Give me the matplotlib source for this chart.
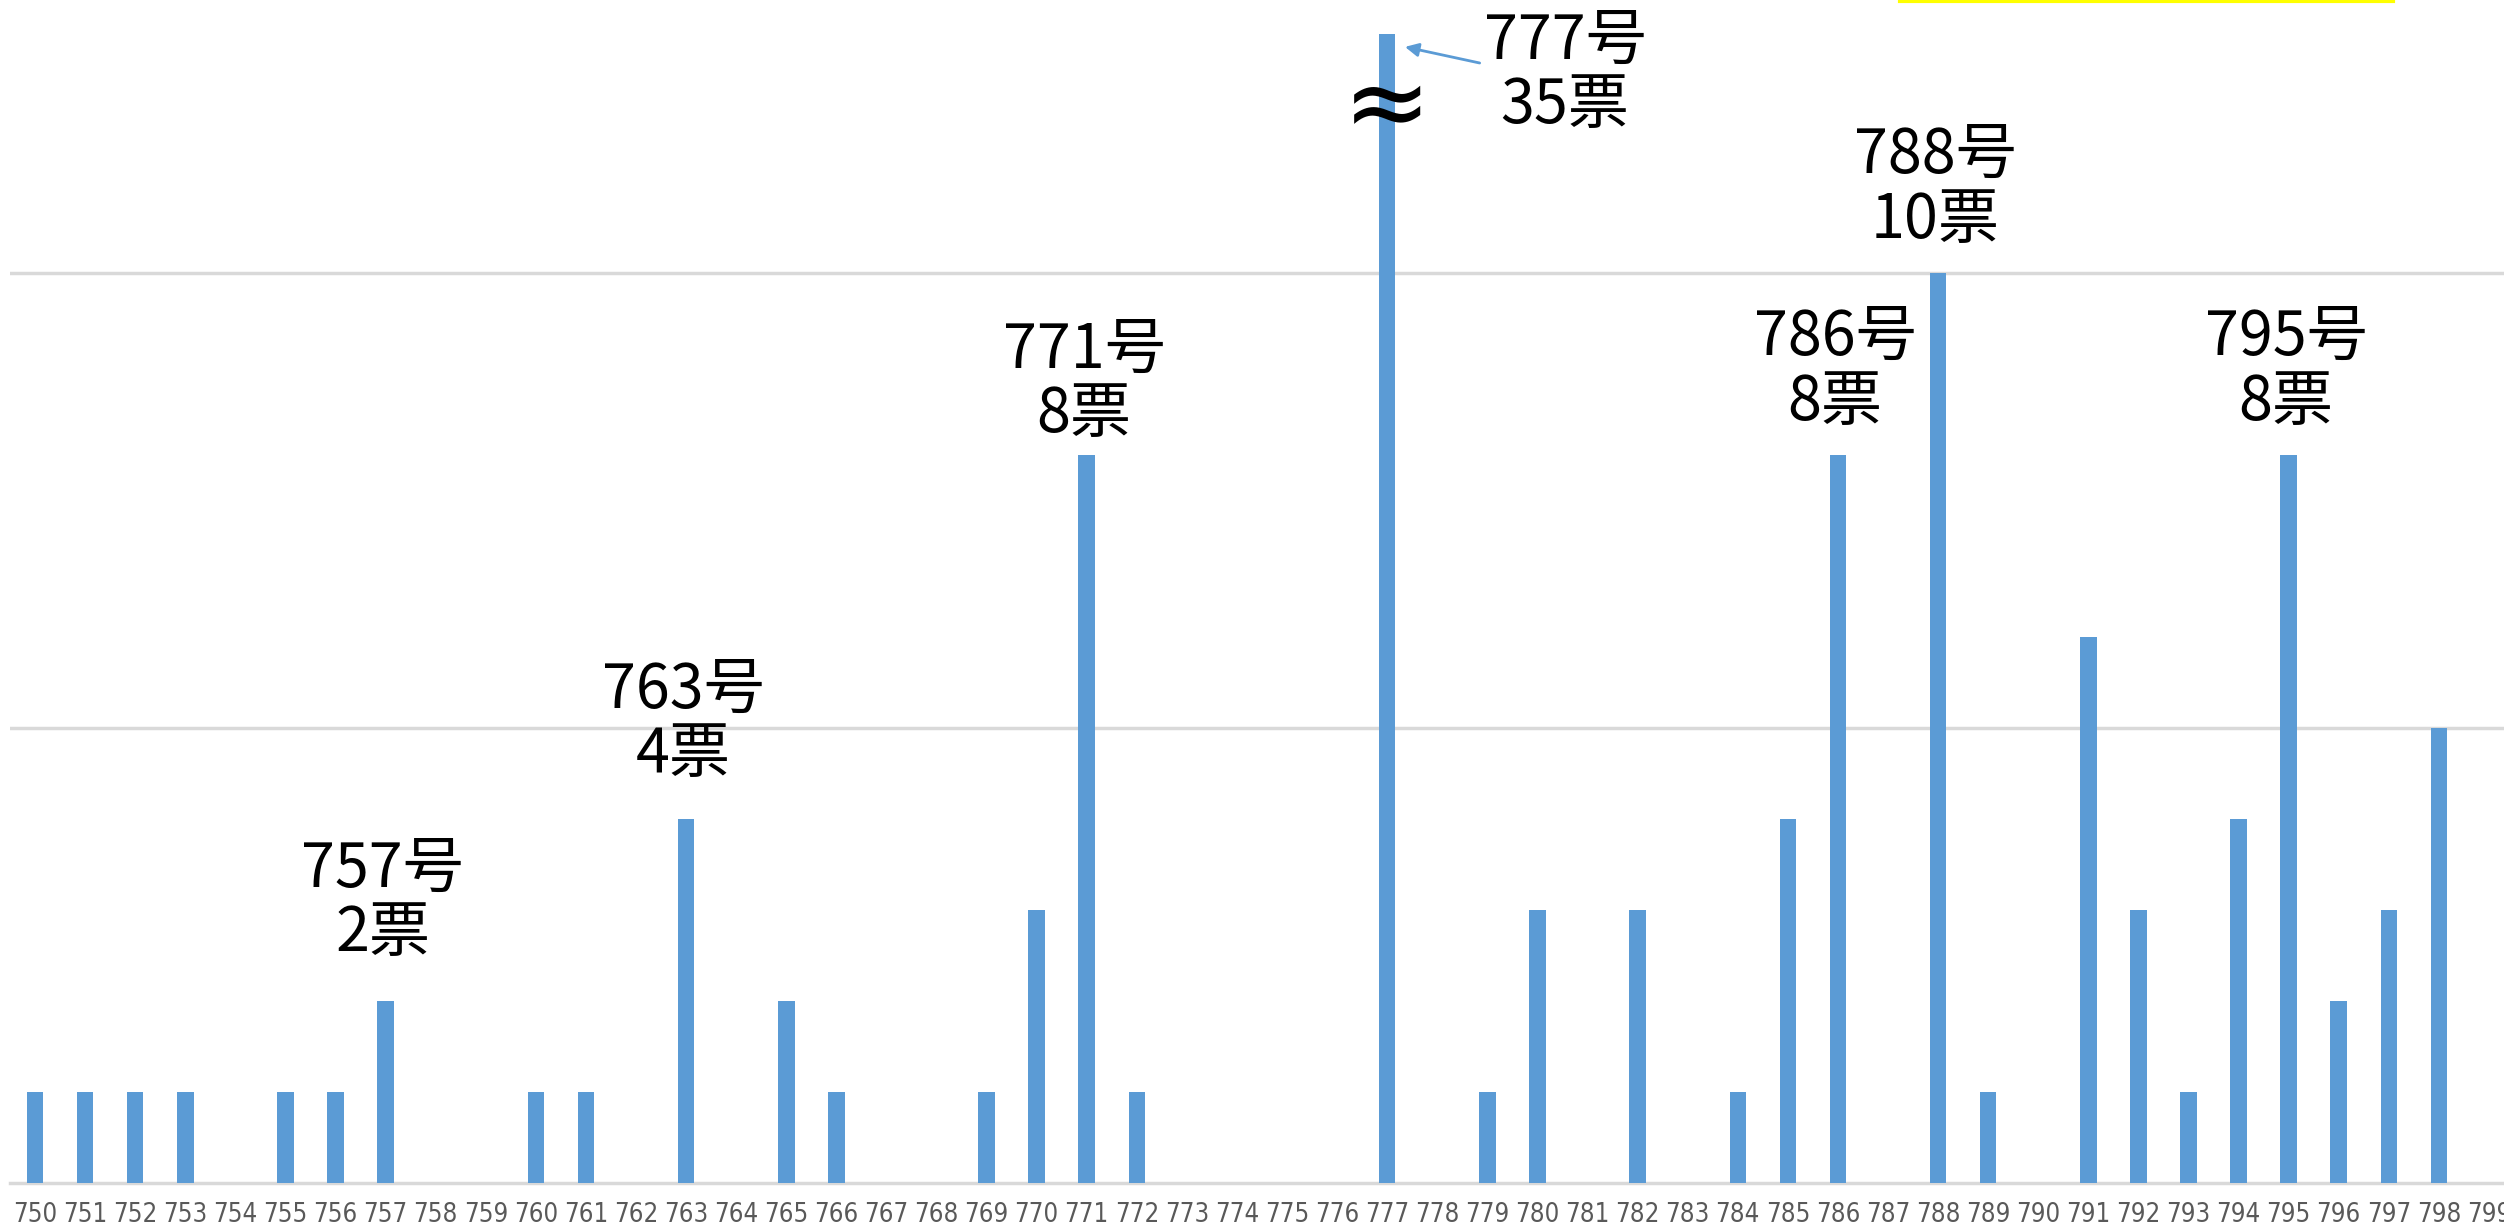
import numpy as np
import matplotlib.pyplot as plt
from matplotlib import font_manager

# votes per number 750..799
numbers = [str(n) for n in range(750, 800)]
votes = [1, 1, 1, 1, 0, 1, 1, 2, 0, 0,
         1, 1, 0, 4, 0, 2, 1, 0, 0, 1,
         3, 8, 1, 0, 0, 0, 0, 35, 0, 1,
         3, 0, 3, 0, 1, 4, 8, 0, 10, 1,
         0, 6, 3, 1, 4, 8, 2, 3, 5, 0]

# labelled bars: (number, text)
labels = [("757", "757号\n2票"), ("763", "763号\n4票"), ("771", "771号\n8票"),
          ("786", "786号\n8票"), ("788", "788号\n10票"), ("795", "795号\n8票")]
top_label = ("777", "777号\n35票")

# gap above each labelled bar, in points
label_gap = [25.7, 23.5, 6.2, 15.4, 15.4, 15.4]

cjk = ["Noto Sans CJK JP", "DejaVu Sans"]
names = {f.name for f in font_manager.fontManager.ttflist}
if "Liberation Sans Narrow" in names:
    tick_kw = dict(family="Liberation Sans Narrow", fontsize=19)
else:
    tick_kw = dict(family="DejaVu Sans", fontstretch="condensed", fontsize=18.5)

bar_color = "#5B9BD5"
grid_color = "#D9D9D9"
ymax = 12.63

fig = plt.figure(figsize=(25.04, 12.29), dpi=100)
ax = fig.add_axes([0.004, 0.0374, 1.0, 0.9353])

x = np.arange(len(numbers))
ax.bar(x, votes, width=0.33, color=bar_color, zorder=3)

ax.set_xlim(-0.5, len(numbers) - 0.5)
ax.set_ylim(0, ymax)
ax.set_yticks([5, 10])
ax.yaxis.grid(True, color=grid_color, linewidth=2.5, zorder=0)
ax.tick_params(axis="y", left=False, labelleft=False)
ax.set_xticks(x)
ax.set_xticklabels(numbers, color="#595959", **tick_kw)
ax.tick_params(axis="x", length=0, pad=14)
for side in ["top", "right", "left"]:
    ax.spines[side].set_visible(False)
ax.spines["bottom"].set_color(grid_color)
ax.spines["bottom"].set_linewidth(2.5)

for (num, txt), gap in zip(labels, label_gap):
    i = numbers.index(num)
    ax.annotate(txt, xy=(i, votes[i]), xytext=(-2, gap), textcoords="offset points",
                ha="center", va="bottom", fontsize=44, family=cjk,
                linespacing=1.05, zorder=5)

# the off-scale bar
i777 = numbers.index(top_label[0])
ax.text(30.55, 12.19, top_label[1], ha="center", va="center", fontsize=44,
        family=cjk, linespacing=1.05, clip_on=False, zorder=5)
ax.annotate("", xy=(i777 + 0.3, 12.49), xytext=(28.9, 12.3),
            arrowprops=dict(arrowstyle="-|>", color=bar_color, lw=2,
                            mutation_scale=20),
            annotation_clip=False, zorder=5)
ax.text(i777, 11.8, "≈", ha="center", va="center", fontsize=76,
        family="DejaVu Sans", zorder=6)

# edge of a yellow box cut off at the top
fig.add_artist(plt.Line2D([1900 / 2504, 2393 / 2504], [0.9995, 0.9995],
                          color="#FFFF00", linewidth=3, transform=fig.transFigure))

fig.savefig("out.png", dpi=100)
